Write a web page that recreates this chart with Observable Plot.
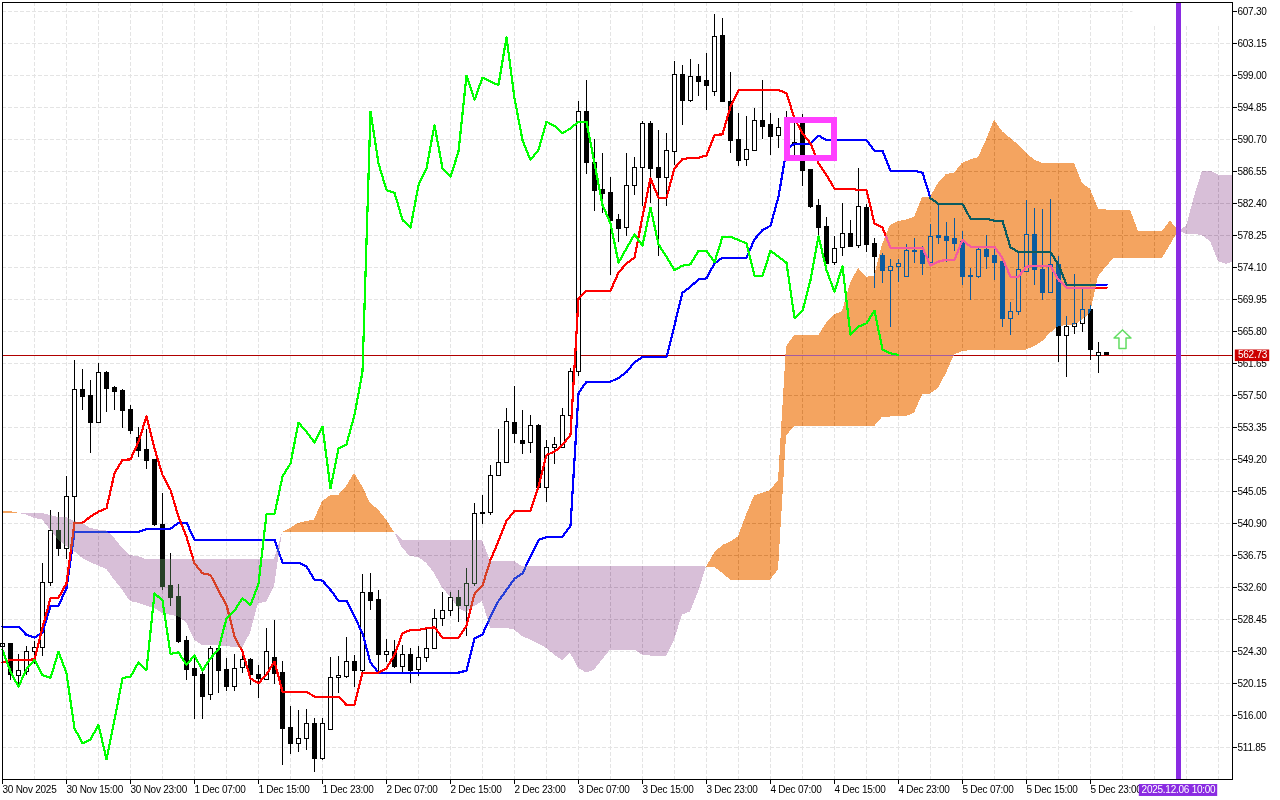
<!DOCTYPE html>
<html>
<head>
<meta charset="utf-8">
<title>Ichimoku chart</title>
<script src="https://cdn.jsdelivr.net/npm/d3@7"></script>
<script src="https://cdn.jsdelivr.net/npm/@observablehq/plot@0.6"></script>
<style>
html,body{margin:0;padding:0;background:#fff;overflow:hidden}
svg{display:block}
</style>
</head>
<body>
<div id="chart"></div>
<script>
const yTicks=[607.30,603.15,599.00,594.85,590.70,586.55,582.40,578.25,574.10,569.95,565.80,561.65,557.50,553.35,549.20,545.05,540.90,536.75,532.60,528.45,524.30,520.15,516.00,511.85];
const xTicks=[0,8,16,24,32,40,48,56,64,72,80,88,96,104,112,120,128,136];
const xLabels=["30 Nov 2025","30 Nov 15:00","30 Nov 23:00","1 Dec 07:00","1 Dec 15:00","1 Dec 23:00","2 Dec 07:00","2 Dec 15:00","2 Dec 23:00","3 Dec 07:00","3 Dec 15:00","3 Dec 23:00","4 Dec 07:00","4 Dec 15:00","4 Dec 23:00","5 Dec 07:00","5 Dec 15:00","5 Dec 23:00"];
const gridX=[0,4,8,12,16,20,24,28,32,36,40,44,48,52,56,60,64,68,72,76,80,84,88,92,96,100,104,108,112,116,120,124,128,132,136,140,144,148,152];

const open=[524.84,525.27,521.17,521.69,524.19,524.71,533.14,539.89,537.55,544.30,
558.17,557.39,553.98,560.42,558.47,558.09,555.62,551.95,550.43,549.14,
540.66,532.80,531.37,525.62,521.99,521.21,518.62,524.58,521.86,519.65,
522.12,523.16,521.21,520.65,523.42,521.47,514.34,512.35,512.91,514.86,
510.32,514.12,520.82,521.04,522.90,521.82,531.85,530.94,523.89,524.19,
522.33,523.80,521.95,523.42,524.58,528.47,529.51,531.20,530.16,533.01,
542.22,542.22,547.0,548.7,553.89,551.56,551.30,553.50,545.46,550.65,
550.65,554.80,560.51,594.31,587.61,584.15,583.72,580.26,579.18,584.62,
586.96,592.67,586.96,585.75,589.03,599.02,595.73,598.76,598.24,596.90,
604.08,595.52,590.63,588.08,589.25,593.05,592.54,591.11,592.36,590.20,
592.79,586.70,582.03,579.31,574.64,576.58,578.40,576.89,581.82,577.11,
575.59,573.69,574.21,572.83,576.20,576.20,574.73,578.14,578.06,577.80,
577.45,572.99,572.91,576.33,575.59,574.77,567.38,568.37,573.56,578.31,
573.78,570.84,574.38,565.26,566.34,566.81,568.55,562.58,562.97];
const close=[525.27,521.25,521.73,524.19,524.71,533.14,539.89,537.55,544.30,558.17,
557.35,553.98,560.38,558.39,558.0,555.54,552.94,550.35,549.05,540.71,
532.71,531.28,525.53,521.95,521.17,518.44,524.58,521.82,519.65,522.07,
523.16,521.21,520.73,524.28,521.43,514.21,512.35,512.91,514.86,510.32,
514.86,520.82,521.08,522.90,521.82,531.85,530.89,523.89,524.19,522.33,
523.80,521.82,523.42,524.58,528.47,529.51,531.20,530.25,533.01,542.09,
542.09,547.0,548.7,554.02,552.55,551.26,553.50,545.46,550.65,551.13,
554.80,560.51,594.31,587.61,584.06,583.63,580.17,579.13,584.62,586.96,
592.67,586.92,585.75,589.16,599.02,595.73,598.76,598.20,597.68,603.95,
595.60,590.55,587.95,589.29,593.05,592.36,591.07,592.15,590.42,590.15,
586.66,581.99,579.26,574.55,576.54,578.40,576.80,581.90,577.02,575.51,
573.69,574.21,574.51,576.20,576.11,574.60,578.01,577.93,577.58,577.15,
572.91,572.91,576.33,575.46,574.68,567.47,568.37,573.73,578.27,573.78,
570.84,574.38,565.26,566.34,566.73,568.55,563.40,562.97,562.73];
const high=[525.58,525.36,523.85,525.01,525.66,535.65,542.65,542.35,547.06,561.98,
560.81,559.51,561.67,560.64,558.73,558.22,556.14,553.37,553.03,549.22,
544.81,537.03,532.93,526.31,523.85,521.69,524.93,524.71,523.33,523.85,
524.50,523.42,522.42,527.22,528.26,522.94,517.23,516.59,516.84,515.55,
515.55,523.46,523.59,526.14,523.72,534.35,534.48,532.15,525.92,525.79,
525.14,524.71,525.01,527.18,529.77,531.97,531.97,532.15,535.09,543.43,
544.47,548.36,553.03,555.84,558.73,555.49,554.97,553.68,551.60,552.08,
555.84,561.03,595.6,598.41,590.72,588.82,585.75,580.91,588.90,588.38,
593.01,593.01,591.93,591.50,600.88,600.36,601.10,600.49,601.87,606.97,
606.33,599.41,594.09,593.66,594.74,598.29,594.09,593.44,594.31,593.44,
594.0,586.70,582.94,580.60,578.18,582.42,580.17,586.96,582.21,577.88,
575.94,575.16,575.16,577.02,577.88,576.80,579.74,582.42,579.91,580.39,
578.75,573.99,576.80,578.31,576.80,574.86,569.54,575.94,582.85,581.77,
581.56,582.94,575.51,567.72,573.13,571.27,569.19,564.40,562.97];
const low=[524.28,520.60,519.96,521.25,522.55,523.63,532.71,536.60,536.17,540.71,
555.54,549.92,553.89,555.28,555.54,553.2,552.38,549.44,547.84,540.49,
532.19,530.12,525.36,520.52,515.50,515.42,517.92,518.79,519.09,519.09,
521.47,519.87,518.14,520.60,520.04,509.58,510.88,511.18,511.44,508.59,
510.14,514.03,518.79,520.86,519.65,521.56,529.68,521.56,522.85,522.16,
521.56,520.09,521.04,522.85,524.50,527.52,528.82,528.04,526.23,532.71,
540.71,541.96,546.98,548.62,551.26,549.79,549.92,545.25,543.60,548.49,
550.65,554.54,559.94,586.22,581.34,581.12,573.12,577.32,578.10,583.50,
582.07,582.42,575.50,582.07,587.39,592.58,595.47,596.25,594.52,596.34,
595.56,588.82,587.17,587.17,589.25,590.76,588.60,589.55,588.47,588.47,
584.58,581.77,578.18,574.55,574.42,575.50,576.67,576.58,576.02,571.40,
572.05,566.30,572.13,572.83,574.64,573.04,574.21,577.02,574.73,576.15,
571.83,569.76,572.70,573.78,572.35,566.30,565.26,567.85,573.56,571.74,
569.76,570.84,561.76,559.81,565.39,565.65,562.02,560.29,562.67];

const tenkan=[522.85,523.2,523.2,523.2,523.29,527.43,531.2,531.28,533.14,541.01,
541.01,541.79,542.44,542.87,547.41,549.14,549.22,551.51,554.76,550.65,
547.19,545.25,541.79,539.19,535.74,534.44,534.22,532.19,530.33,526.23,
524.28,520.82,520.17,521.34,522.98,519.09,519.09,519.09,519.09,518.44,
518.44,518.44,518.44,517.36,517.36,521.56,521.56,521.56,522.12,523.85,
526.66,527.09,527.09,527.31,527.43,526.1,526.1,526.1,527.65,531.76,
532.84,536.17,538.63,541.23,542.52,542.52,542.52,545.68,549.79,550.22,
551.08,552.38,570.1,571.09,571.09,571.09,571.09,573.43,574.64,575.37,
580.69,585.66,583.15,583.15,586.96,588.17,588.30,588.34,588.64,591.28,
591.37,594.96,597.12,597.12,597.12,597.12,597.12,597.12,596.69,593.44,
591.5,590.2,587.61,586.09,584.32,584.32,584.32,584.15,584.15,579.83,
579.27,576.67,576.67,576.67,576.67,576.67,574.34,574.86,575.12,575.12,
577.67,576.8,576.8,576.8,576.8,575.29,572.91,572.91,574.21,574.3,
574.3,574.3,572.48,571.49,571.49,571.49,571.49,571.49,571.49];
const kijun=[527.52,527.52,527.52,526.44,526.1,526.74,530.2,530.25,532.49,539.8,
539.8,539.8,539.8,539.8,539.8,539.8,539.8,539.8,540.19,540.23,
540.23,540.23,541.01,541.01,538.8,538.8,538.8,538.8,538.8,538.8,
538.8,538.8,538.8,538.8,538.8,535.82,535.82,535.82,535.3,533.62,
533.49,532.28,530.89,530.89,528.82,526.66,522.85,521.56,521.56,521.56,
521.56,521.56,521.56,521.56,521.56,521.56,521.56,521.56,521.82,526.01,
526.53,528.82,530.85,532.28,533.75,534.44,536.6,538.76,539.11,539.19,
539.19,540.58,557.78,559.3,559.3,559.3,559.3,559.76,560.54,561.83,
562.48,562.48,562.48,562.48,566.63,570.83,571.61,572.56,572.69,574.64,
575.37,575.37,575.37,575.37,577.75,578.96,579.52,583.28,589.4,590.16,
590.16,590.16,591.2,590.63,590.63,590.63,590.63,590.63,590.63,589.25,
589.25,586.66,586.66,586.66,586.66,586.4,583.07,582.34,582.34,582.34,
582.34,580.43,580.43,580.43,580.17,580.17,576.72,576.11,576.11,576.11,
576.11,576.11,574.43,571.87,571.87,571.87,571.87,571.87,571.87];
const chikou=[524.5,521.69,519.74,522.03,523.2,521.25,520.86,524.28,521.47,514.34,
512.39,512.91,514.77,510.32,515.42,520.86,521.04,522.9,521.9,531.85,
530.89,523.98,524.19,522.55,523.8,521.82,523.42,524.58,528.6,529.6,
531.2,530.33,533.06,542.13,542.13,546.98,548.7,553.98,552.81,551.39,
553.46,545.46,550.65,551.17,554.97,560.59,594.31,587.61,584.15,583.8,
580.26,579.26,584.8,586.96,592.58,586.96,585.88,589.12,598.98,595.82,
598.72,598.2,597.77,603.95,596.04,590.63,588.04,589.34,593.01,592.45,
591.5,592.15,593.01,593.01,587.61,582.2,579.83,574.72,576.58,578.4,
576.93,581.86,577.1,575.5,573.77,574.34,574.51,576.28,576.28,574.77,
578.1,578.1,577.66,577.23,573.04,573.04,576.28,575.5,574.72,567.55,
568.46,572.48,578.18,573.77,570.94,574.29,565.35,566.43,566.86,568.5,
563.49,562.97,562.75];

const cloudHigh=[542.52,542.44,542.22,542.22,542.22,542.22,541.92,541.7,541.66,541.14,
540.92,540.27,540.06,539.97,538.98,537.68,536.73,536.6,536.21,536.21,
536.21,536.21,536.21,536.21,536.21,536.21,536.21,536.21,536.21,536.21,
536.21,536.21,536.21,536.21,536.21,539.71,540.27,540.92,541.14,541.36,
543.73,544.51,544.51,545.68,547.41,545.68,543.52,542.65,541.36,539.71,
538.76,538.76,538.76,538.76,538.76,538.76,538.76,538.76,538.76,538.76,
538.76,535.95,535.95,535.95,535.95,535.30,535.30,535.30,535.30,535.30,
535.30,535.30,535.30,535.30,535.30,535.30,535.30,535.30,535.30,535.30,
535.30,535.30,535.30,535.30,535.30,535.30,535.30,535.30,535.25,537.03,
538.03,538.46,539.19,542.0,544.47,544.81,545.16,546.46,563.83,565.22,
565.22,565.22,565.22,566.86,567.94,568.37,572.05,573.99,572.83,573.0,
577.02,579.57,580.05,580.26,580.61,583.2,583.2,585.02,586.18,586.31,
587.61,588.04,588.34,590.64,593.23,591.72,590.85,589.99,588.91,588.04,
587.61,587.61,587.61,587.61,587.61,585.0,584.24,581.68,581.55,581.55,
581.55,581.55,578.75,578.75,578.75,578.75,580.13,578.85,579.39,583.28,
586.61,586.61,586.09,586.09,586.09];
const cloudLow=[542.22,542.22,542.22,542.0,541.57,541.36,540.06,538.76,537.9,537.25,
536.38,535.82,535.39,534.96,533.57,532.28,530.76,530.55,530.2,529.9,
529.25,529.0,528.82,528.04,525.79,525.06,525.06,525.06,524.93,524.84,
524.71,526.66,530.55,530.63,532.71,539.71,539.71,539.71,539.71,539.71,
539.71,539.71,539.71,539.71,539.71,539.71,539.71,539.71,539.71,539.71,
537.68,536.6,536.51,535.74,534.44,532.49,531.41,529.9,529.34,530.12,
530.76,527.31,527.31,527.31,527.09,526.23,525.79,525.27,524.71,523.85,
523.11,524.06,522.15,521.5,521.89,523.19,524.49,524.49,524.49,524.49,
523.84,523.71,523.71,523.71,525.79,529.03,529.42,532.02,535.25,535.22,
534.44,533.57,533.57,533.57,533.57,533.57,533.57,534.87,552.25,553.46,
553.46,553.46,553.46,553.46,553.46,553.46,553.46,553.46,553.46,553.46,
554.67,554.71,554.76,554.76,555.19,557.57,557.7,558.43,560.38,562.75,
563.19,563.32,563.32,563.32,563.32,563.32,563.32,563.32,563.4,563.83,
564.48,565.56,566.43,566.56,566.56,567.29,568.15,572.91,574.21,575.29,
575.29,575.29,575.29,575.29,575.29,575.29,577.01,578.85,578.4,578.4,
578.23,577.45,574.85,574.51,574.85];
const orangeSpans=[[0,2],[35,49],[88,147]];
const purpleSpans=[[2,35],[49,88],[147,154]];

const lastPrice=562.73;
const signalBar=147;
const boxBars=[98.1,104], boxPrices=[588.3,593.2];
const arrowBars=[140,141.06,140.44,140.44,139.56,139.56,138.94,140];
const arrowPrices=[566.0,564.96,564.96,563.6,563.6,564.96,564.96,566.0];

const bars=open.map((o,i)=>({i,o,c:close[i],h:high[i],l:low[i]}));
const series=a=>a.map((v,i)=>({i,v}));
const cloud=cloudHigh.map((v,i)=>({i,hi:v,lo:cloudLow[i]}));
const crisp={shapeRendering:"crispEdges"};
const lineOpts=(stroke,w=2.2)=>({x:"i",y:"v",stroke,strokeWidth:w,curve:"linear",...crisp});
const cloudMark=(spans,mask)=>spans.map(([a,b])=>Plot.areaY(cloud.filter(d=>d.i>=a&&d.i<=b),{x:"i",y1:"hi",y2:"lo",fill:mask,mixBlendMode:"difference",...crisp}));
const font="'Liberation Sans',Arial,sans-serif";

const chart=Plot.plot({
  width:1280,height:800,marginLeft:2,marginRight:48,marginTop:2,marginBottom:21,
  x:{domain:[0,153.75],range:[2,1232],axis:null},
  y:{domain:[507.7,608.467],range:[779,2],axis:null},
  style:{fontFamily:font,fontSize:"10px",letterSpacing:"-0.25px",background:"#fff",color:"#000"},
  marks:[
    Plot.frame({fill:"#fff",stroke:"none"}),
    Plot.ruleY(yTicks,{stroke:"#e4e4e4",strokeDasharray:"4,2",...crisp}),
    Plot.ruleX(gridX,{stroke:"#e4e4e4",strokeDasharray:"4,2",...crisp}),
    Plot.rect([0],{x1:141.3,x2:153.7,y1:605.5,y2:608.4,fill:"#fff"}),
    Plot.ruleY([lastPrice],{stroke:"#b00000",...crisp}),
    Plot.ruleX(bars,{x:"i",y1:"l",y2:"h",stroke:"#000",clip:true,...crisp}),
    Plot.rect(bars.filter(d=>d.c>=d.o),{x1:d=>d.i-.25,x2:d=>d.i+.25,y1:"o",y2:"c",fill:"#fff",stroke:"#000",...crisp}),
    Plot.rect(bars.filter(d=>d.c<d.o),{x1:d=>d.i-.25,x2:d=>d.i+.25,y1:"o",y2:"c",fill:"#000",stroke:"#000",...crisp}),
    Plot.line(series(kijun),lineOpts("#0000ff")),
    Plot.line(series(tenkan),lineOpts("#ff0000")),
    ...cloudMark(orangeSpans,"#0b5b9f"),
    ...cloudMark(purpleSpans,"#274027"),
    Plot.line(series(chikou),lineOpts("#00ff00")),
    Plot.rect([0],{x1:153.75,x2:161,y1:500,y2:612,fill:"#fff"}),
    Plot.rect([0],{x1:boxBars[0],x2:boxBars[1],y1:boxPrices[0],y2:boxPrices[1],fill:"none",stroke:"#ff40ff",strokeWidth:6,...crisp}),
    Plot.ruleX([signalBar],{stroke:"#8a2be2",strokeWidth:5,...crisp}),
    Plot.line(arrowBars.map((x,k)=>({x,y:arrowPrices[k]})),{x:"x",y:"y",stroke:"#62dd62",strokeWidth:1.5,fill:"#fff"}),
    Plot.frame({stroke:"#000"}),
    Plot.axisY(yTicks,{anchor:"right",tickSize:4,tickPadding:1,tickFormat:d=>d.toFixed(2),label:null,fontSize:10}),
    Plot.axisX(xTicks,{anchor:"bottom",tickSize:5,tickPadding:1,tickFormat:i=>xLabels[xTicks.indexOf(i)],textAnchor:"start",label:null,fontSize:10}),
    Plot.rect([0],{x1:154.1,x2:158.4,y1:561.9,y2:563.4,fill:"#cc0000"}),
    Plot.text([lastPrice.toFixed(2)],{x:156.25,y:lastPrice,text:d=>d,fill:"#fff",fontSize:10}),
    Plot.rect([0],{x1:142.1,x2:151.9,y1:505.5,y2:507.05,fill:"#8a2be2"}),
    Plot.text(["2025.12.06 10:00"],{x:147,y:506.3,text:d=>d,fill:"#fff",fontSize:10})
  ]
});
document.getElementById("chart").appendChild(chart);
</script>
</body>
</html>
